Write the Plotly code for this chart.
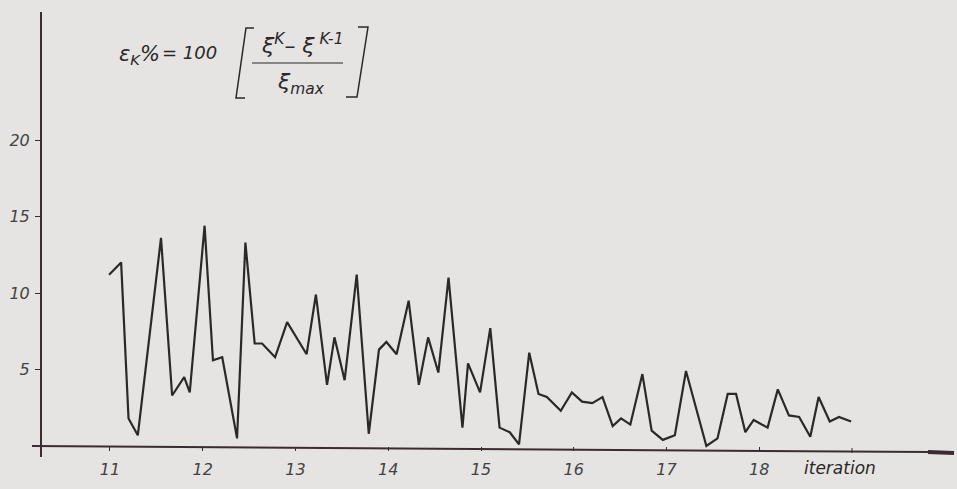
import plotly.graph_objects as go

# ---- data ----
iteration = [10.99, 11.12, 11.20, 11.30, 11.55, 11.67, 11.80, 11.86, 12.02, 12.11,
             12.21, 12.37, 12.46, 12.56, 12.64, 12.78, 12.91, 13.12, 13.22, 13.34,
             13.42, 13.53, 13.66, 13.79, 13.90, 13.98, 14.09, 14.22, 14.33, 14.43,
             14.54, 14.65, 14.80, 14.86, 14.99, 15.10, 15.20, 15.31, 15.41, 15.52,
             15.62, 15.71, 15.86, 15.98, 16.09, 16.20, 16.31, 16.42, 16.51, 16.61,
             16.74, 16.84, 16.96, 17.09, 17.21, 17.43, 17.55, 17.66, 17.75, 17.85,
             17.94, 18.09, 18.20, 18.32, 18.43, 18.55, 18.64, 18.76, 18.86, 18.99]
eps_percent = [11.2, 12.0, 1.8, 0.7, 13.6, 3.3, 4.5, 3.5, 14.4, 5.6,
               5.8, 0.5, 13.3, 6.7, 6.7, 5.8, 8.1, 6.0, 9.9, 4.0,
               7.1, 4.3, 11.2, 0.8, 6.3, 6.8, 6.0, 9.5, 4.0, 7.1,
               4.8, 11.0, 1.2, 5.4, 3.5, 7.7, 1.2, 0.9, 0.1, 6.1,
               3.4, 3.2, 2.3, 3.5, 2.9, 2.8, 3.2, 1.3, 1.8, 1.4,
               4.7, 1.0, 0.4, 0.7, 4.9, 0.0, 0.5, 3.4, 3.4, 0.9,
               1.7, 1.2, 3.7, 2.0, 1.9, 0.6, 3.2, 1.6, 1.9, 1.6]
y_tick_values = [5, 10, 15, 20]
x_tick_values = [11, 12, 13, 14, 15, 16, 17, 18]
x_tick_labels = ["11", "12", "13", "14", "15", "16", "17", "18"]
x_title = "iteration"

W, H = 957, 489
BG = "#e5e4e2"
INK = "#2b2829"
AXIS = "#3a2c32"
TXT = "#444242"
FONT = "DejaVu Sans"


def px(x):
    return x / W


def py(y):
    return 1 - y / H


fig = go.Figure()
fig.add_trace(go.Scatter(x=iteration, y=eps_percent, mode="lines",
                         line=dict(color=INK, width=2.2), hoverinfo="skip",
                         showlegend=False))

fig.update_layout(
    width=W, height=H,
    margin=dict(l=0, r=0, t=0, b=0),
    paper_bgcolor=BG, plot_bgcolor=BG,
    xaxis=dict(domain=[px(42), 1], range=[10.267, 20.132],
               anchor="free", position=py(446),
               showgrid=False, zeroline=False, showline=False,
               tickmode="array", tickvals=x_tick_values, ticktext=x_tick_labels,
               ticks="outside", ticklen=4, tickwidth=1, tickcolor=AXIS,
               ticklabelstandoff=5,
               tickfont=dict(family=FONT, size=16, color=TXT, style="italic")),
    yaxis=dict(domain=[py(457), py(12)], range=[-0.72, 28.37],
               showgrid=False, zeroline=False,
               showline=True, linecolor=AXIS, linewidth=2,
               tickmode="array", tickvals=y_tick_values,
               ticks="outside", ticklen=5, tickwidth=1, tickcolor=AXIS,
               ticklabelstandoff=2,
               tickfont=dict(family=FONT, size=16, color=TXT, style="italic")),
)

shapes = []
# x axis line (slightly drifting as in the scan) with thick arrow end
shapes.append(dict(type="line", xref="paper", yref="paper",
                   x0=px(32), y0=py(446), x1=px(930), y1=py(452),
                   line=dict(color=AXIS, width=2)))
shapes.append(dict(type="line", xref="paper", yref="paper",
                   x0=px(928), y0=py(452), x1=px(954), y1=py(453),
                   line=dict(color=AXIS, width=4)))
# tick mark at 19 (labelled by the axis title instead of a number)
shapes.append(dict(type="line", xref="x", yref="paper",
                   x0=19, y0=py(448), x1=19, y1=py(453),
                   line=dict(color=AXIS, width=1)))


def path(points):
    return "M " + " L ".join(f"{px(a):.5f},{py(b):.5f}" for a, b in points)


# formula brackets and fraction bar
shapes.append(dict(type="path", xref="paper", yref="paper",
                   path=path([(254, 28), (246, 28), (236, 98), (245, 98)]),
                   line=dict(color=INK, width=1.5)))
shapes.append(dict(type="path", xref="paper", yref="paper",
                   path=path([(358, 27), (368, 27), (357, 97), (346, 97)]),
                   line=dict(color=INK, width=1.5)))
shapes.append(dict(type="line", xref="paper", yref="paper",
                   x0=px(252), y0=py(63), x1=px(343), y1=py(63),
                   line=dict(color=INK, width=1.2)))
fig.update_layout(shapes=shapes)

ann_font = dict(family=FONT, color=INK, style="italic")
anns = [
    dict(text="ε<sub>K</sub>%", x=px(117), y=py(55), size=21, xa="left"),
    dict(text="= 100", x=px(160), y=py(52), size=18, xa="left"),
    dict(text="ξ<sup>K</sup>– ξ<sup> K-1</sup>", x=px(302), y=py(44), size=22, xa="center"),
    dict(text="ξ<sub>max</sub>", x=px(301), y=py(83), size=22, xa="center"),
    dict(text=x_title, x=px(840), y=py(468), size=17, xa="center"),
]
for a in anns:
    fig.add_annotation(text=a["text"], x=a["x"], y=a["y"], xref="paper", yref="paper",
                       xanchor=a["xa"], yanchor="middle", showarrow=False,
                       font=dict(size=a["size"], **ann_font))

fig.write_html("out.html",
               config={"displayModeBar": False, "staticPlot": True},
               post_script="document.body.style.margin='0';"
                           "document.body.style.background='" + BG + "';"
                           "document.documentElement.style.overflow='hidden';")
